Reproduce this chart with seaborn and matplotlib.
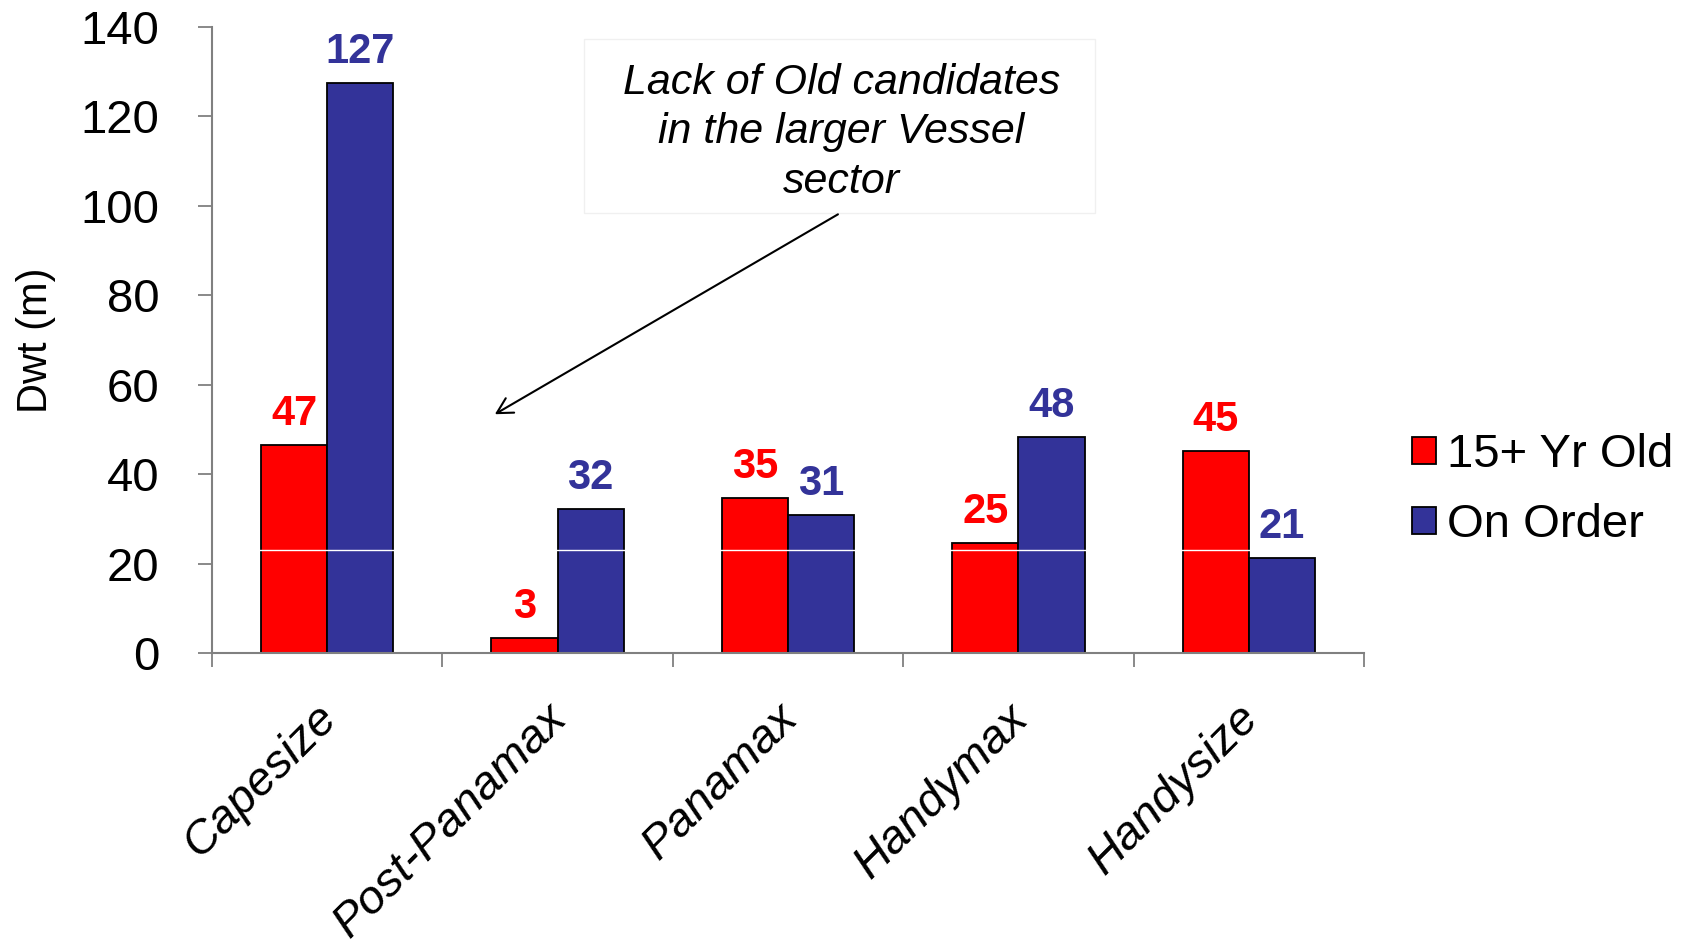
import matplotlib
matplotlib.use("Agg")
import matplotlib.pyplot as plt
import matplotlib.transforms as mtransforms
from matplotlib.patches import Rectangle
import numpy as np
import pandas as pd
import seaborn as sns

# Fleet data (million dwt)
categories = ["Capesize", "Post-Panamax", "Panamax", "Handymax", "Handysize"]
series_names = ["15+ Yr Old", "On Order"]
old_fleet = [46.6, 3.4, 34.7, 24.6, 45.1]
on_order = [127.4, 32.1, 30.8, 48.2, 21.3]
series_colors = ["#FF0000", "#333399"]
y_ticks = [0, 20, 40, 60, 80, 100, 120, 140]
note_lines = ["Lack of Old candidates", "in the larger Vessel", "sector"]

sns.set_theme(style="white")
plt.rcParams["font.family"] = ["Liberation Sans", "DejaVu Sans"]
plt.rcParams.update({
    "text.color": "black",
    "axes.labelcolor": "black",
    "xtick.color": "black",
    "ytick.color": "black",
})

df = pd.DataFrame({
    "Vessel": categories * 2,
    "Series": [series_names[0]] * len(categories) + [series_names[1]] * len(categories),
    "Dwt": old_fleet + on_order,
})

fig = plt.figure(figsize=(16.86, 9.46), dpi=100)
ax = fig.add_axes([0.1257, 0.3097, 0.809 - 0.1257, 0.9715 - 0.3097])

sns.barplot(
    data=df, x="Vessel", y="Dwt", hue="Series",
    order=categories, hue_order=series_names,
    palette=series_colors, saturation=1, width=0.575, gap=0,
    edgecolor="black", linewidth=1.3, errorbar=None, ax=ax,
)

# value labels above bars
for container, color in zip(ax.containers, series_colors):
    ax.bar_label(container, fmt="%.0f", padding=8, color=color,
                 fontsize=30, fontweight="bold")

# faint white rule across the bars
ax.axhline(23, color="white", lw=1, zorder=2)

ax.set_xlim(-0.5, len(categories) - 0.5)
ax.set_ylim(0, 140)
ax.set_yticks(y_ticks)
ax.set_xlabel("")
ax.set_ylabel("Dwt (m)", fontsize=30)
ax.yaxis.set_label_coords(-0.135, 0.5)

for side in ["top", "right"]:
    ax.spines[side].set_visible(False)
for side in ["left", "bottom"]:
    ax.spines[side].set_color("#808080")
    ax.spines[side].set_linewidth(1.5)

ax.tick_params(axis="y", which="major", left=True, length=10, width=1.3,
               color="#808080", labelcolor="black", labelsize=34, pad=28)
ax.set_xticks(np.arange(len(categories)))
ax.set_xticks(np.arange(-0.5, len(categories), 1), minor=True)
ax.tick_params(axis="x", which="major", bottom=True, length=0,
               labelcolor="black", labelsize=34, pad=42)
ax.tick_params(axis="x", which="minor", bottom=True, length=10, width=1.3, color="#808080")

offset = mtransforms.ScaledTranslation(0.03, 0, fig.dpi_scale_trans)
for lab in ax.get_xticklabels():
    lab.set_rotation(45)
    lab.set_rotation_mode("anchor")
    lab.set_ha("right")
    lab.set_va("center")
    lab.set_fontstyle("italic")
    lab.set_transform(lab.get_transform() + offset)

# legend on the right
handles, labels = ax.get_legend_handles_labels()
ax.legend(handles, labels, loc="center left", bbox_to_anchor=(0.8375, 0.482),
          bbox_transform=fig.transFigure, frameon=False, fontsize=34,
          handlelength=0.5, handleheight=0.5, handletextpad=0.25,
          labelspacing=0.56, borderpad=0, borderaxespad=0)

# callout box with arrow
ax.add_patch(Rectangle((1.115, 98.3), 2.218, 39.0, facecolor="white",
                       edgecolor="#f0f0f0", lw=1, zorder=4, clip_on=False))
ax.text(2.231, 116.4, "\n".join(note_lines), ha="center", va="center",
        fontsize=31, fontstyle="italic", linespacing=1.31, zorder=5)
ax.annotate("", xy=(0.728, 53.4), xytext=(2.217, 98.1),
            arrowprops=dict(arrowstyle="->,head_length=0.55,head_width=0.3",
                            color="black", lw=1.5, shrinkA=0, shrinkB=0,
                            mutation_scale=20),
            zorder=5)

fig.savefig("out.png", dpi=100, facecolor="white")
